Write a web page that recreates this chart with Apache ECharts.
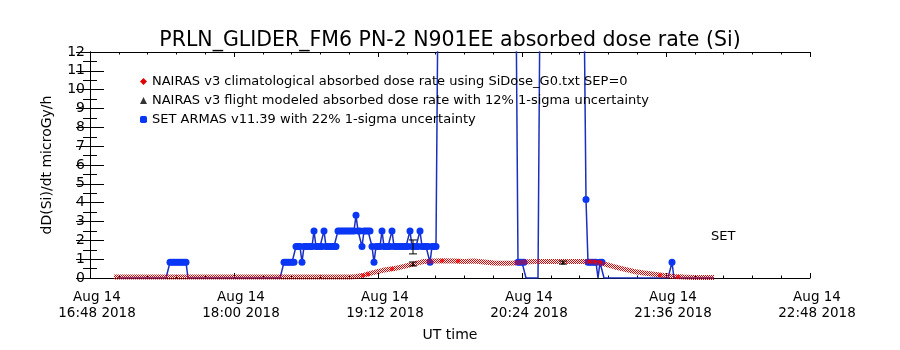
<!DOCTYPE html>
<html>
<head>
<meta charset="utf-8">
<title>PRLN_GLIDER_FM6 absorbed dose rate</title>
<script src="https://cdn.jsdelivr.net/npm/echarts@6/dist/echarts.min.js"></script>
<style>
    html, body { margin: 0; background: #fff; }
    #chart { width: 900px; height: 350px; }
</style>
</head>
<body>
<div id="chart"></div>
<script>
// x values are minutes after Aug 14 2018 16:48 UT
var xTickLabels = ['Aug 14\n16:48 2018', 'Aug 14\n18:00 2018', 'Aug 14\n19:12 2018',
                   'Aug 14\n20:24 2018', 'Aug 14\n21:36 2018', 'Aug 14\n22:48 2018'];
var legendNames = ['NAIRAS v3 climatological absorbed dose rate using SiDose_G0.txt SEP=0',
                   'NAIRAS v3 flight modeled absorbed dose rate with 12% 1-sigma uncertainty',
                   'SET ARMAS v11.39 with 22% 1-sigma uncertainty'];

// NAIRAS climatological
var climTime = [12, 50, 100, 130, 132, 137, 142, 147, 152, 157, 162, 167, 172, 177, 182, 187, 192, 197, 202, 207,
                212, 217, 222, 227, 232, 237, 242, 247, 252, 257, 262, 267, 272, 277, 282, 287, 292, 297, 302, 312];
var climDose = [0.05, 0.05, 0.05, 0.05, 0.06, 0.15, 0.3, 0.42, 0.5, 0.62, 0.75, 0.88, 0.9, 0.92, 0.9, 0.88, 0.9, 0.85, 0.8, 0.78,
                0.8, 0.85, 0.87, 0.87, 0.87, 0.87, 0.87, 0.87, 0.85, 0.75, 0.6, 0.47, 0.35, 0.27, 0.2, 0.13, 0.08, 0.05, 0.03, 0.02];
var climDotTime = [136.5, 139, 151, 176, 184, 250, 252.5, 255, 285, 294];
var climDotDose = [0.13, 0.2, 0.48, 0.92, 0.9, 0.87, 0.87, 0.85, 0.15, 0.07];

// NAIRAS flight modeled
var flightTime = [161.5, 236.5];
var flightDose = [0.75, 0.82];
var flightLow = [0.64, 0.74];
var flightHigh = [0.85, 0.9];

// SET ARMAS, one sample per minute from armasStart, null = no sample
var armasStart = 14;
var armasDose = [
    0, 0, 0, 0, 0, 0, 0, 0, 0, 0,                                  // 14
    0, 0, 0, 0, 0, 0, 0, 0, 0, 0,                                  // 24
    0, 0, 0, 0, 0, 0, 0.83, 0.83, 0.83, 0.83,                      // 34
    0.83, 0.83, 0.83, 0.83, 0.83, 0, 0, 0, 0, 0,                   // 44
    0, 0, 0, 0, 0, 0, 0, 0, 0, 0,                                  // 54
    0, 0, 0, 0, 0, 0, 0, 0, 0, 0,                                  // 64
    0, 0, 0, 0, 0, 0, 0, 0, 0, 0,                                  // 74
    0, 0, 0, 0, 0, 0, 0, 0, 0, 0,                                  // 84
    0, 0, 0, 0.83, 0.83, 0.83, 0.83, 0.83, 0.83, 1.67,             // 94
    1.67, 1.67, 0.83, 1.67, 1.67, 1.67, 1.67, 1.67, 2.5, 1.67,     // 104
    1.67, 1.67, 1.67, 2.5, 1.67, 1.67, 1.67, 1.67, 1.67, 1.67,     // 114
    2.5, 2.5, 2.5, 2.5, 2.5, 2.5, 2.5, 2.5, 2.5, 3.33,             // 124
    2.5, 2.5, 1.67, 2.5, 2.5, 2.5, 2.5, 1.67, 0.83, 1.67,          // 134
    1.67, 1.67, 2.5, 1.67, 1.67, 1.67, 1.67, 2.5, 1.67, 1.67,      // 144
    1.67, 1.67, 1.67, 1.67, 1.67, 1.67, 2.5, 1.67, 1.67, 1.67,     // 154
    1.67, 2.5, 1.67, 1.67, 1.67, 1.67, 0.83, 1.67, 1.67, 1.67,     // 164
    15, null, null, null, null, null, null, null, null, null,      // 174
    null, null, null, null, null, null, null, null, null, null,    // 184
    null, null, null, null, null, null, null, null, null, null,    // 194
    null, null, null, null, null, null, null, null, null, 15,      // 204
    0.83, 0.83, 0.83, 0.83, 0, 0, 0, 0, 0, 0,                      // 214
    0, 15, null, null, null, null, null, null, null, null,         // 224
    null, null, null, null, null, null, null, null, null, null,    // 234
    null, null, null, 15, 4.17, 0.83, 0.83, 0.83, 0.83, 0.83,      // 244
    0, 0.83, 0.83, 0, 0, 0, 0, 0, 0, 0,                            // 254
    0, 0, 0, 0, 0, 0, 0, 0, 0, 0,                                  // 264
    0, 0, 0, 0, 0, 0, 0, 0, 0, 0,                                  // 274
    0, 0, 0, 0, 0, 0, 0, 0.83, 0, 0,                               // 284
    0, 0, 0, 0, 0, 0, 0, 0, 0, 0,                                  // 294
    0, 0, 0, 0, 0, 0, 0, 0, 0                                      // 304
];
var armasBarTime = [161.5];
var armasBarLow = [1.28];
var armasBarHigh = [2.02];

var font = "'DejaVu Sans', sans-serif";
var blue = '#0a36f5';

// checkered red, like the dithered line of the original plot
var hatchCanvas = document.createElement('canvas');
hatchCanvas.width = 2;
hatchCanvas.height = 2;
var g = hatchCanvas.getContext('2d');
g.fillStyle = '#e00000';
g.fillRect(0, 0, 1, 1);
g.fillRect(1, 1, 1, 1);
var hatch = { image: hatchCanvas, repeat: 'repeat' };

function pairs(xs, ys) {
    return xs.map(function (x, i) { return [x, ys[i]]; });
}

var armasData = armasDose.map(function (v, i) {
    var t = armasStart + i;
    if (v === null) return [t, '-'];
    if (v === 0) return { value: [t, 0], symbolSize: 0 };
    return [t, v];
});

function errorBar(params, api) {
    var x = api.value(0);
    var lo = api.coord([x, api.value(1)]);
    var hi = api.coord([x, api.value(2)]);
    var w = 4;
    var st = { stroke: '#000', lineWidth: 1 };
    return {
        type: 'group',
        children: [
            { type: 'line', shape: { x1: lo[0], y1: lo[1], x2: hi[0], y2: hi[1] }, style: st },
            { type: 'line', shape: { x1: lo[0] - w, y1: lo[1], x2: lo[0] + w, y2: lo[1] }, style: st },
            { type: 'line', shape: { x1: hi[0] - w, y1: hi[1], x2: hi[0] + w, y2: hi[1] }, style: st }
        ]
    };
}

function xAxis(pos) {
    return {
        type: 'value', position: pos, min: 0, max: 360, interval: 72,
        axisLine: { onZero: false, lineStyle: { color: '#000', width: 1 } },
        axisTick: { inside: true, length: 5, lineStyle: { color: '#000' } },
        minorTick: { show: true, splitNumber: 5, length: 2.5, lineStyle: { color: '#000' } },
        splitLine: { show: false },
        axisLabel: {
            show: pos === 'bottom', margin: 11, fontFamily: font, fontSize: 13.5, lineHeight: 16, color: '#000',
            padding: [0, 0, 0, 14],
            formatter: function (v) { return xTickLabels[Math.round(v / 72)]; }
        },
        name: pos === 'bottom' ? 'UT time' : '', nameLocation: 'middle', nameGap: 50,
        nameTextStyle: { fontFamily: font, fontSize: 14, color: '#000' }
    };
}

function yAxis(pos) {
    return {
        type: 'value', position: pos, min: 0, max: 12, interval: 1,
        axisLine: { show: true, lineStyle: { color: '#000', width: 1 } },
        axisTick: { show: true, inside: true, length: 14, lineStyle: { color: '#000' } },
        minorTick: { show: true, splitNumber: 2, length: 7, lineStyle: { color: '#000' } },
        splitLine: { show: false },
        axisLabel: { show: pos === 'left', margin: 5, fontFamily: font, fontSize: 14, color: '#000' },
        name: pos === 'left' ? 'dD(Si)/dt microGy/h' : '', nameLocation: 'middle', nameGap: 36,
        nameTextStyle: { fontFamily: font, fontSize: 14, color: '#000' }
    };
}

var chart = echarts.init(document.getElementById('chart'));
chart.setOption({
    animation: false,
    backgroundColor: '#fff',
    title: {
        text: 'PRLN_GLIDER_FM6 PN-2 N901EE absorbed dose rate (Si)',
        left: 'center', top: 25,
        textStyle: { fontFamily: font, fontSize: 20.5, fontWeight: 'normal', color: '#000' }
    },
    grid: { left: 90, right: 90, top: 52, bottom: 72 },
    legend: {
        orient: 'vertical', left: 135, top: 70, itemWidth: 7, itemHeight: 7, itemGap: 6,
        selectedMode: false,
        textStyle: { fontFamily: font, fontSize: 13, color: '#000' },
        data: [
            { name: legendNames[0], icon: 'diamond', itemStyle: { color: '#e00000' } },
            { name: legendNames[1], icon: 'triangle', itemStyle: { color: '#000' } },
            { name: legendNames[2], icon: 'roundRect', itemStyle: { color: blue } }
        ]
    },
    graphic: [{
        type: 'text', left: 711, top: 230,
        style: { text: 'SET', font: '13px ' + font, fill: '#000' }
    }],
    xAxis: [xAxis('bottom'), xAxis('top')],
    yAxis: [yAxis('left'), yAxis('right')],
    series: [
        {
            name: legendNames[2], type: 'line', data: armasData, z: 2,
            symbol: 'circle', symbolSize: 7, showAllSymbol: true,
            lineStyle: { color: '#1a2fbf', width: 1.5 },
            itemStyle: { color: blue }
        },
        {
            name: legendNames[0], type: 'line', data: pairs(climTime, climDose), z: 3,
            symbol: 'none', smooth: false,
            lineStyle: { color: hatch, width: 5 },
            itemStyle: { color: '#e00000' }
        },
        {
            name: 'clim points', type: 'scatter', data: pairs(climDotTime, climDotDose), z: 4,
            symbol: 'circle', symbolSize: 4, itemStyle: { color: '#ee0000' }
        },
        {
            name: 'armas error', type: 'custom', renderItem: errorBar, z: 5,
            data: armasBarTime.map(function (t, i) { return [t, armasBarLow[i], armasBarHigh[i]]; })
        },
        {
            name: 'flight error', type: 'custom', renderItem: errorBar, z: 5,
            data: flightTime.map(function (t, i) { return [t, flightLow[i], flightHigh[i]]; })
        },
        {
            name: legendNames[1], type: 'scatter', data: pairs(flightTime, flightDose), z: 6,
            symbol: 'triangle', symbolSize: 4, itemStyle: { color: '#000' }
        }
    ]
});
</script>
</body>
</html>
